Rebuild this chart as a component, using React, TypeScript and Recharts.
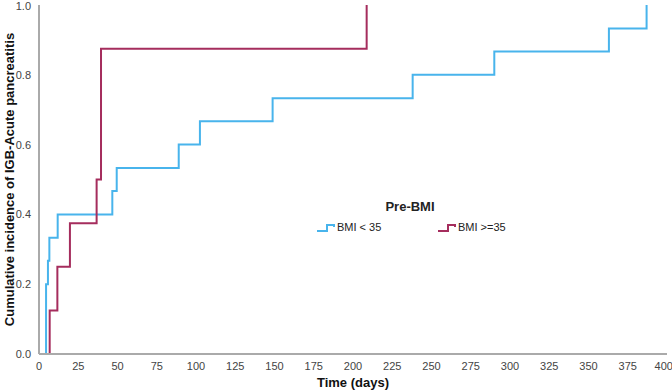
import { LineChart, Line, XAxis, YAxis, Legend } from "recharts"

const blueTimes = [0, 4.5, 5.7, 6.6, 11.9, 46.7, 49.5, 89, 102.5, 148.8, 238, 290, 363, 387]
const blueValues = [0, 0.2, 0.267, 0.333, 0.4, 0.467, 0.533, 0.6, 0.667, 0.733, 0.8, 0.867, 0.933, 1.0]
const redTimes = [0, 6.8, 11.7, 19.7, 36.7, 39.5, 208.7]
const redValues = [0, 0.125, 0.25, 0.375, 0.5, 0.875, 1.0]
const xTicks = [0, 25, 50, 75, 100, 125, 150, 175, 200, 225, 250, 275, 300, 325, 350, 375, 400]
const yTicks = [0, 0.2, 0.4, 0.6, 0.8, 1.0]

const BLUE = "#48B4EC"
const RED = "#A52D5D"
const FONT = "'Liberation Sans', Arial, sans-serif"

const blueData = blueTimes.map((t, i) => ({ time: t, value: blueValues[i] }))
const redData = redTimes.map((t, i) => ({ time: t, value: redValues[i] }))

function StepIcon({ color }: { color: string }) {
  return (
    <svg width={21} height={12} style={{ verticalAlign: "middle" }}>
      <polyline points="1,9 11,9 11,3 18,3 18,5" fill="none" stroke={color} strokeWidth={2} />
    </svg>
  )
}

// legend sits inside the plot, so it is placed by hand
function LegendBox() {
  return (
    <div style={{ position: "relative", fontFamily: FONT, color: "#222", width: 190, height: 44 }}>
      <div style={{ position: "absolute", left: 54, top: 0, width: 80, textAlign: "center", fontWeight: "bold", fontSize: 13 }}>
        Pre-BMI
      </div>
      <div style={{ position: "absolute", left: 0, top: 22, fontSize: 11, whiteSpace: "nowrap" }}>
        <StepIcon color={BLUE} />
        BMI &lt; 35
      </div>
      <div style={{ position: "absolute", left: 121, top: 22, fontSize: 11, whiteSpace: "nowrap" }}>
        <StepIcon color={RED} />
        BMI &gt;=35
      </div>
    </div>
  )
}

export default function App() {
  return (
    <div style={{ position: "fixed", top: 0, left: 0, background: "#fff" }}>
      <LineChart width={672} height={390} margin={{ top: 5, right: 5, left: 0, bottom: 0 }}>
        <XAxis
          dataKey="time"
          type="number"
          domain={[0, 400]}
          ticks={xTicks}
          tickLine={false}
          axisLine={{ stroke: "#aaa", strokeWidth: 2 }}
          tick={{ fill: "#444", fontSize: 11, fontFamily: FONT }}
          height={36}
          label={{ value: "Time (days)", position: "insideBottom", offset: 3, fill: "#111", fontSize: 13, fontWeight: "bold", fontFamily: FONT }}
        />
        <YAxis
          type="number"
          domain={[0, 1]}
          ticks={yTicks}
          tickFormatter={(v: number) => v.toFixed(1)}
          tickLine={false}
          axisLine={{ stroke: "#aaa", strokeWidth: 2 }}
          tick={{ fill: "#444", fontSize: 11, fontFamily: FONT }}
          width={39}
          label={{ value: "Cumulative incidence of IGB-Acute pancreatitis", angle: -90, position: "center", dx: -10, fill: "#111", fontSize: 13, fontWeight: "bold", fontFamily: FONT }}
        />
        <Legend
          layout="horizontal"
          verticalAlign="middle"
          align="center"
          content={() => <LegendBox />}
          wrapperStyle={{ position: "absolute", left: 316, top: 199, width: 190 }}
        />
        <Line data={blueData} dataKey="value" type="stepAfter" stroke={BLUE} strokeWidth={2} dot={false} isAnimationActive={false} />
        <Line data={redData} dataKey="value" type="stepAfter" stroke={RED} strokeWidth={2} dot={false} isAnimationActive={false} />
      </LineChart>
    </div>
  )
}
